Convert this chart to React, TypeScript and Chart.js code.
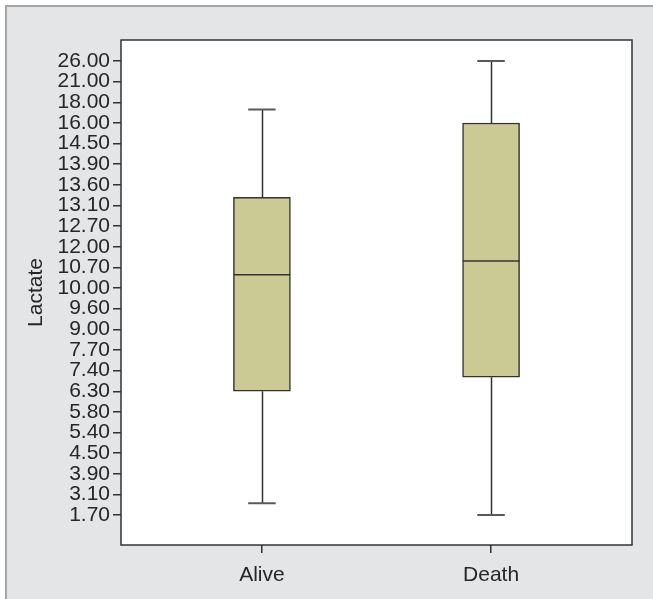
import React, { useEffect, useRef } from "react";
import { Chart, registerables } from "chart.js";

Chart.register(...registerables);

// Categories (x axis)
const categories = ["Alive", "Death"];

// Ordinal tick labels of the Lactate axis (top to bottom, equally spaced)
const yTickLabels = [
  "26.00", "21.00", "18.00", "16.00", "14.50", "13.90", "13.60", "13.10",
  "12.70", "12.00", "10.70", "10.00", "9.60", "9.00", "7.70", "7.40",
  "6.30", "5.80", "5.40", "4.50", "3.90", "3.10", "1.70",
];

// Box-plot statistics (lactate values)
const whiskerLow = [2.5, 1.7];
const q1Values = [6.3, 7.05];
const medianValues = [10.45, 11.1];
const q3Values = [13.3, 16.0];
const whiskerHigh = [17.3, 26.0];

const tickNums = yTickLabels.map(Number);

// Map a lactate value onto the ordinal axis (rank position between tick labels)
function toRank(v: number): number {
  for (let i = 0; i < tickNums.length - 1; i++) {
    const a = tickNums[i];
    const b = tickNums[i + 1];
    if (v <= a && v >= b) return i + (a - v) / (a - b);
  }
  return v > tickNums[0] ? 0 : tickNums.length - 1;
}

const FONT = "'Liberation Sans', Arial, Helvetica, sans-serif";
const TEXT = "#262626";
const LINE = "#333333";
const BOX_FILL = "#cbca95";

const boxPlotPlugin = {
  id: "boxPlotExtras",
  beforeDraw(chart: any) {
    const { ctx, chartArea } = chart;
    ctx.save();
    ctx.fillStyle = "#ffffff";
    ctx.fillRect(chartArea.left, chartArea.top, chartArea.right - chartArea.left, chartArea.bottom - chartArea.top);
    ctx.restore();
  },
  afterDatasetsDraw(chart: any) {
    const { ctx } = chart;
    const xs = chart.scales.x;
    const ys = chart.scales.y;
    const capHalf = 0.06;
    const boxHalf = 0.124;
    ctx.save();
    categories.forEach((_, i) => {
      const xv = i + 1;
      const cx = Math.round(xs.getPixelForValue(xv)) + 0.5;
      const yHi = ys.getPixelForValue(toRank(whiskerHigh[i]));
      const yQ3 = ys.getPixelForValue(toRank(q3Values[i]));
      const yQ1 = ys.getPixelForValue(toRank(q1Values[i]));
      const yLo = ys.getPixelForValue(toRank(whiskerLow[i]));
      const yMed = ys.getPixelForValue(toRank(medianValues[i]));
      // whiskers
      ctx.strokeStyle = LINE;
      ctx.lineWidth = 1.5;
      ctx.beginPath();
      ctx.moveTo(cx, yHi);
      ctx.lineTo(cx, yQ3);
      ctx.moveTo(cx, yQ1);
      ctx.lineTo(cx, yLo);
      ctx.stroke();
      // caps
      ctx.strokeStyle = "#5a5a5a";
      ctx.lineWidth = 2;
      ctx.beginPath();
      ctx.moveTo(xs.getPixelForValue(xv - capHalf), yHi);
      ctx.lineTo(xs.getPixelForValue(xv + capHalf), yHi);
      ctx.moveTo(xs.getPixelForValue(xv - capHalf), yLo);
      ctx.lineTo(xs.getPixelForValue(xv + capHalf), yLo);
      ctx.stroke();
      // median
      ctx.strokeStyle = LINE;
      ctx.lineWidth = 1.5;
      ctx.beginPath();
      ctx.moveTo(xs.getPixelForValue(xv - boxHalf), yMed);
      ctx.lineTo(xs.getPixelForValue(xv + boxHalf), yMed);
      ctx.stroke();
    });
    ctx.restore();
  },
  afterDraw(chart: any) {
    const { ctx, chartArea } = chart;
    ctx.save();
    ctx.strokeStyle = LINE;
    ctx.lineWidth = 1.5;
    ctx.strokeRect(chartArea.left, chartArea.top, chartArea.right - chartArea.left, chartArea.bottom - chartArea.top);
    ctx.restore();
  },
};

export default function App() {
  const canvasRef = useRef<HTMLCanvasElement | null>(null);

  useEffect(() => {
    if (!canvasRef.current) return;
    const chart = new Chart(canvasRef.current, {
      type: "bar",
      data: {
        datasets: [
          {
            label: "Lactate",
            data: categories.map((_, i) => ({ x: i + 1, y: [toRank(q1Values[i]), toRank(q3Values[i])] })) as any,
            backgroundColor: BOX_FILL,
            borderColor: LINE,
            borderWidth: 1.5,
            borderSkipped: false,
            barThickness: 57,
          } as any,
        ],
      },
      options: {
        animation: false,
        responsive: false,
        devicePixelRatio: 1,
        layout: { padding: { top: 40, right: 21, left: 0, bottom: 0 } },
        plugins: {
          legend: { display: false },
          tooltip: { enabled: false },
          title: { display: false },
        },
        scales: {
          x: {
            type: "linear",
            offset: false,
            min: 0.385,
            max: 2.615,
            afterBuildTicks: (s: any) => {
              s.ticks = categories.map((_, i) => ({ value: i + 1 }));
            },
            afterFit: (s: any) => {
              s.height = 54;
            },
            ticks: {
              autoSkip: false,
              maxRotation: 0,
              padding: 10,
              color: TEXT,
              font: { family: FONT, size: 21 },
              callback: (v: any) => categories[Math.round(Number(v)) - 1] ?? "",
            },
            grid: { offset: false, drawOnChartArea: false, drawTicks: true, tickLength: 8, color: LINE, lineWidth: 1.5 },
            border: { display: false },
          },
          y: {
            type: "linear",
            reverse: true,
            min: -1.02,
            max: 23.45,
            afterBuildTicks: (s: any) => {
              s.ticks = yTickLabels.map((_, i) => ({ value: i }));
            },
            afterFit: (s: any) => {
              s.width = 121;
            },
            ticks: {
              autoSkip: false,
              padding: 3,
              color: TEXT,
              font: { family: FONT, size: 21, lineHeight: 1 },
              callback: (v: any) => yTickLabels[Math.round(Number(v))] ?? "",
            },
            grid: { drawOnChartArea: false, drawTicks: true, tickLength: 8, color: LINE, lineWidth: 1.5 },
            border: { display: false },
            title: {
              display: true,
              text: "Lactate",
              color: TEXT,
              font: { family: FONT, size: 21 },
              padding: { top: 24, bottom: 0 },
            },
          },
        },
      },
      plugins: [boxPlotPlugin],
    });
    return () => chart.destroy();
  }, []);

  return (
    <div style={{ position: "absolute", left: 0, top: 0, width: 653, height: 599, background: "#ffffff", overflow: "hidden" }}>
      <div
        style={{
          position: "absolute",
          left: 5,
          top: 5,
          width: 660,
          height: 610,
          background: "#e4e5e7",
          borderLeft: "2px solid #a5a5a5",
          borderTop: "2px solid #a5a5a5",
          boxSizing: "border-box",
        }}
      />
      <canvas ref={canvasRef} width={653} height={599} style={{ position: "absolute", left: 0, top: 0, width: 653, height: 599 }} />
    </div>
  );
}
